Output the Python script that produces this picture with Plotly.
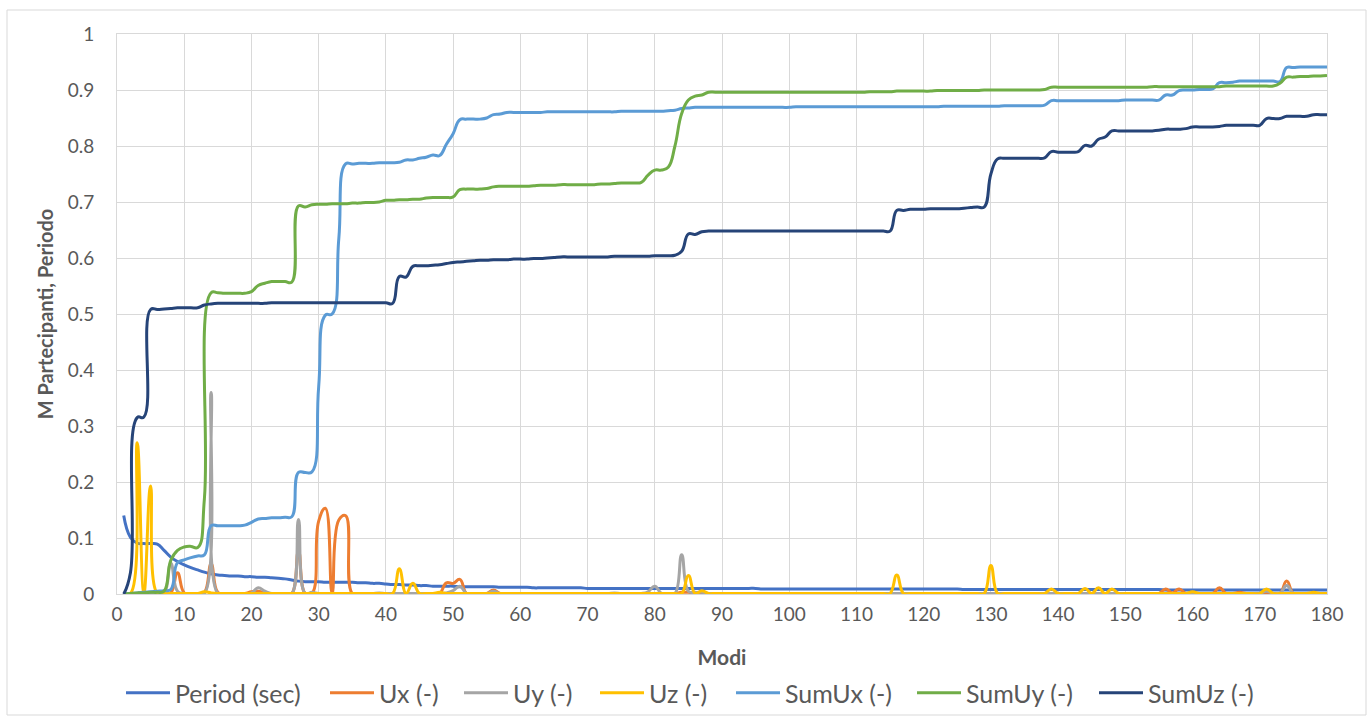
import plotly.graph_objects as go

# Modal analysis: participating mass ratios and periods for modes 1..180
modes = list(range(1, 181))

period_sec = [
    0.140, 0.101, 0.091, 0.090, 0.090, 0.089, 0.078, 0.066, 0.058, 0.052,
    0.047, 0.043, 0.039, 0.036, 0.034, 0.033, 0.032, 0.032, 0.031, 0.031,
    0.030, 0.030, 0.029, 0.028, 0.027, 0.025, 0.023, 0.022, 0.022, 0.022,
    0.021, 0.021, 0.021, 0.021, 0.021, 0.020, 0.020, 0.019, 0.019, 0.018,
    0.017, 0.017, 0.016, 0.016, 0.015, 0.015, 0.014, 0.014, 0.014, 0.014,
    0.013, 0.013, 0.013, 0.013, 0.013, 0.013, 0.012, 0.012, 0.012, 0.012,
    0.012, 0.011, 0.011, 0.011, 0.011, 0.011, 0.011, 0.011, 0.011, 0.010,
    0.010, 0.010, 0.010, 0.010, 0.010, 0.010, 0.010, 0.010, 0.010, 0.010,
    0.010, 0.010, 0.010, 0.010, 0.010, 0.010, 0.010, 0.010, 0.010, 0.010,
    0.010, 0.010, 0.010, 0.010, 0.010, 0.009, 0.009, 0.009, 0.009, 0.009,
    0.009, 0.009, 0.009, 0.009, 0.009, 0.009, 0.009, 0.009, 0.009, 0.009,
    0.009, 0.009, 0.009, 0.009, 0.009, 0.009, 0.009, 0.009, 0.009, 0.009,
    0.009, 0.009, 0.009, 0.009, 0.009, 0.008, 0.008, 0.008, 0.008, 0.008,
    0.008, 0.008, 0.008, 0.008, 0.008, 0.008, 0.008, 0.008, 0.008, 0.008,
    0.008, 0.008, 0.008, 0.008, 0.008, 0.008, 0.008, 0.008, 0.008, 0.008,
    0.008, 0.008, 0.008, 0.008, 0.008, 0.007, 0.007, 0.007, 0.007, 0.007,
    0.007, 0.007, 0.007, 0.007, 0.007, 0.007, 0.007, 0.007, 0.007, 0.007,
    0.007, 0.007, 0.007, 0.007, 0.007, 0.007, 0.007, 0.007, 0.007, 0.007,
]

ux = [
    0.001, 0.001, 0.001, 0.001, 0.001, 0.001, 0.001, 0.002, 0.038, 0.002,
    0.001, 0.001, 0.003, 0.054, 0.003, 0.001, 0.001, 0.001, 0.001, 0.004,
    0.005, 0.002, 0.001, 0.001, 0.001, 0.001, 0.077, 0.001, 0.001, 0.130,
    0.153, 0.001, 0.132, 0.140, 0.001, 0.001, 0.001, 0.001, 0.001, 0.001,
    0.001, 0.001, 0.001, 0.001, 0.001, 0.001, 0.001, 0.001, 0.020, 0.019,
    0.026, 0.001, 0.001, 0.001, 0.001, 0.007, 0.001, 0.001, 0.001, 0.001,
    0.001, 0.001, 0.001, 0.001, 0.001, 0.001, 0.001, 0.001, 0.001, 0.001,
    0.001, 0.001, 0.001, 0.001, 0.001, 0.001, 0.001, 0.001, 0.001, 0.001,
    0.001, 0.001, 0.001, 0.003, 0.003, 0.001, 0.001, 0.001, 0.001, 0.001,
    0.001, 0.001, 0.001, 0.001, 0.001, 0.001, 0.001, 0.001, 0.001, 0.001,
    0.001, 0.001, 0.001, 0.001, 0.001, 0.001, 0.001, 0.001, 0.001, 0.001,
    0.001, 0.001, 0.001, 0.001, 0.001, 0.001, 0.001, 0.001, 0.001, 0.001,
    0.001, 0.001, 0.001, 0.001, 0.001, 0.001, 0.001, 0.001, 0.001, 0.001,
    0.001, 0.001, 0.001, 0.001, 0.001, 0.001, 0.001, 0.001, 0.001, 0.001,
    0.001, 0.001, 0.001, 0.001, 0.001, 0.001, 0.001, 0.001, 0.001, 0.001,
    0.001, 0.001, 0.001, 0.001, 0.001, 0.009, 0.002, 0.009, 0.001, 0.001,
    0.001, 0.001, 0.001, 0.011, 0.001, 0.001, 0.003, 0.001, 0.001, 0.001,
    0.001, 0.001, 0.001, 0.023, 0.001, 0.001, 0.001, 0.001, 0.001, 0.001,
]

uy = [
    0.001, 0.001, 0.001, 0.001, 0.001, 0.001, 0.001, 0.055, 0.005, 0.001,
    0.001, 0.001, 0.001, 0.360, 0.001, 0.001, 0.001, 0.001, 0.001, 0.002,
    0.011, 0.005, 0.001, 0.001, 0.001, 0.001, 0.133, 0.001, 0.003, 0.001,
    0.001, 0.001, 0.001, 0.001, 0.001, 0.001, 0.001, 0.001, 0.002, 0.001,
    0.001, 0.001, 0.001, 0.001, 0.001, 0.001, 0.001, 0.001, 0.002, 0.006,
    0.014, 0.001, 0.001, 0.001, 0.001, 0.005, 0.001, 0.001, 0.001, 0.001,
    0.001, 0.001, 0.001, 0.001, 0.001, 0.001, 0.001, 0.001, 0.001, 0.001,
    0.001, 0.001, 0.001, 0.002, 0.001, 0.001, 0.001, 0.001, 0.004, 0.014,
    0.001, 0.001, 0.001, 0.070, 0.005, 0.003, 0.003, 0.001, 0.001, 0.001,
    0.001, 0.001, 0.001, 0.001, 0.001, 0.001, 0.001, 0.001, 0.001, 0.001,
    0.001, 0.001, 0.001, 0.001, 0.001, 0.001, 0.001, 0.001, 0.001, 0.001,
    0.001, 0.001, 0.001, 0.001, 0.001, 0.001, 0.001, 0.001, 0.001, 0.001,
    0.001, 0.001, 0.001, 0.001, 0.001, 0.001, 0.001, 0.001, 0.001, 0.001,
    0.001, 0.001, 0.001, 0.001, 0.001, 0.001, 0.001, 0.001, 0.001, 0.001,
    0.001, 0.001, 0.001, 0.001, 0.001, 0.001, 0.001, 0.001, 0.001, 0.001,
    0.001, 0.001, 0.001, 0.001, 0.001, 0.001, 0.001, 0.001, 0.001, 0.001,
    0.001, 0.001, 0.001, 0.001, 0.001, 0.001, 0.001, 0.001, 0.001, 0.001,
    0.005, 0.001, 0.001, 0.015, 0.001, 0.001, 0.001, 0.001, 0.001, 0.001,
]

uz = [
    0.001, 0.001, 0.270, 0.001, 0.193, 0.001, 0.001, 0.001, 0.001, 0.001,
    0.001, 0.001, 0.004, 0.002, 0.001, 0.001, 0.001, 0.001, 0.001, 0.001,
    0.001, 0.001, 0.001, 0.001, 0.001, 0.001, 0.001, 0.001, 0.001, 0.001,
    0.001, 0.001, 0.001, 0.001, 0.001, 0.001, 0.001, 0.001, 0.001, 0.001,
    0.001, 0.045, 0.001, 0.019, 0.001, 0.001, 0.001, 0.003, 0.001, 0.001,
    0.001, 0.001, 0.001, 0.001, 0.001, 0.001, 0.001, 0.001, 0.001, 0.001,
    0.001, 0.001, 0.001, 0.001, 0.001, 0.001, 0.001, 0.001, 0.001, 0.001,
    0.001, 0.001, 0.001, 0.001, 0.001, 0.001, 0.001, 0.001, 0.001, 0.001,
    0.001, 0.001, 0.001, 0.001, 0.033, 0.001, 0.006, 0.001, 0.001, 0.001,
    0.001, 0.001, 0.001, 0.001, 0.001, 0.001, 0.001, 0.001, 0.001, 0.001,
    0.001, 0.001, 0.001, 0.001, 0.001, 0.001, 0.001, 0.001, 0.001, 0.001,
    0.001, 0.001, 0.001, 0.001, 0.001, 0.034, 0.001, 0.001, 0.001, 0.001,
    0.001, 0.001, 0.001, 0.001, 0.001, 0.001, 0.001, 0.001, 0.001, 0.051,
    0.001, 0.001, 0.001, 0.001, 0.001, 0.001, 0.001, 0.001, 0.009, 0.001,
    0.001, 0.001, 0.001, 0.010, 0.001, 0.011, 0.001, 0.009, 0.001, 0.001,
    0.001, 0.001, 0.001, 0.001, 0.001, 0.001, 0.001, 0.001, 0.001, 0.004,
    0.001, 0.001, 0.001, 0.001, 0.001, 0.001, 0.001, 0.001, 0.001, 0.001,
    0.009, 0.001, 0.001, 0.001, 0.001, 0.001, 0.001, 0.003, 0.001, 0.001,
]

sum_ux = [
    0.000, 0.001, 0.002, 0.003, 0.004, 0.005, 0.006, 0.008, 0.056, 0.061,
    0.065, 0.068, 0.070, 0.122, 0.122, 0.122, 0.122, 0.122, 0.123, 0.128,
    0.134, 0.135, 0.136, 0.136, 0.137, 0.138, 0.217, 0.217, 0.218, 0.370,
    0.498, 0.500, 0.635, 0.768, 0.768, 0.769, 0.769, 0.769, 0.770, 0.770,
    0.770, 0.771, 0.775, 0.775, 0.778, 0.780, 0.784, 0.783, 0.803, 0.822,
    0.847, 0.848, 0.848, 0.848, 0.850, 0.856, 0.857, 0.860, 0.860, 0.860,
    0.860, 0.860, 0.860, 0.861, 0.861, 0.861, 0.861, 0.861, 0.861, 0.861,
    0.861, 0.861, 0.861, 0.861, 0.862, 0.862, 0.862, 0.862, 0.862, 0.862,
    0.862, 0.863, 0.864, 0.867, 0.868, 0.869, 0.869, 0.869, 0.869, 0.869,
    0.869, 0.869, 0.869, 0.869, 0.869, 0.869, 0.869, 0.869, 0.869, 0.869,
    0.870, 0.870, 0.870, 0.870, 0.870, 0.870, 0.870, 0.870, 0.870, 0.870,
    0.870, 0.870, 0.870, 0.870, 0.870, 0.870, 0.870, 0.870, 0.870, 0.870,
    0.870, 0.870, 0.871, 0.871, 0.871, 0.871, 0.871, 0.871, 0.871, 0.871,
    0.871, 0.872, 0.872, 0.872, 0.872, 0.872, 0.872, 0.873, 0.881, 0.881,
    0.881, 0.881, 0.881, 0.881, 0.881, 0.881, 0.881, 0.881, 0.881, 0.882,
    0.882, 0.882, 0.882, 0.882, 0.882, 0.891, 0.891, 0.899, 0.900, 0.900,
    0.901, 0.901, 0.902, 0.913, 0.913, 0.914, 0.916, 0.916, 0.916, 0.916,
    0.916, 0.916, 0.915, 0.940, 0.940, 0.941, 0.941, 0.941, 0.941, 0.941,
]

sum_uy = [
    0.000, 0.001, 0.002, 0.002, 0.003, 0.003, 0.005, 0.060, 0.078, 0.084,
    0.085, 0.083, 0.170, 0.538, 0.538, 0.537, 0.537, 0.537, 0.537, 0.540,
    0.551, 0.555, 0.558, 0.558, 0.558, 0.557, 0.693, 0.691, 0.695, 0.696,
    0.696, 0.697, 0.697, 0.697, 0.698, 0.698, 0.699, 0.699, 0.700, 0.703,
    0.703, 0.704, 0.704, 0.705, 0.705, 0.707, 0.708, 0.708, 0.708, 0.709,
    0.722, 0.723, 0.723, 0.723, 0.724, 0.727, 0.728, 0.728, 0.728, 0.728,
    0.728, 0.729, 0.730, 0.730, 0.730, 0.731, 0.731, 0.731, 0.731, 0.731,
    0.731, 0.732, 0.732, 0.733, 0.734, 0.734, 0.734, 0.735, 0.748, 0.757,
    0.757, 0.762, 0.800, 0.858, 0.882, 0.889, 0.891, 0.896, 0.896, 0.896,
    0.896, 0.896, 0.896, 0.896, 0.896, 0.896, 0.896, 0.896, 0.896, 0.896,
    0.896, 0.896, 0.896, 0.896, 0.896, 0.896, 0.896, 0.896, 0.896, 0.896,
    0.896, 0.897, 0.897, 0.897, 0.897, 0.898, 0.898, 0.898, 0.898, 0.898,
    0.898, 0.899, 0.899, 0.899, 0.899, 0.899, 0.899, 0.899, 0.900, 0.900,
    0.900, 0.900, 0.900, 0.900, 0.900, 0.900, 0.900, 0.901, 0.905, 0.905,
    0.905, 0.905, 0.905, 0.905, 0.905, 0.905, 0.905, 0.905, 0.905, 0.905,
    0.905, 0.905, 0.905, 0.906, 0.906, 0.906, 0.906, 0.906, 0.906, 0.906,
    0.906, 0.906, 0.906, 0.906, 0.907, 0.907, 0.907, 0.907, 0.907, 0.907,
    0.907, 0.907, 0.912, 0.923, 0.923, 0.924, 0.924, 0.925, 0.925, 0.926,
]

sum_uz = [
    0.000, 0.038, 0.315, 0.316, 0.508, 0.508, 0.509, 0.510, 0.511, 0.511,
    0.511, 0.511, 0.516, 0.518, 0.519, 0.519, 0.519, 0.519, 0.519, 0.519,
    0.519, 0.519, 0.520, 0.520, 0.520, 0.520, 0.520, 0.520, 0.520, 0.520,
    0.520, 0.520, 0.520, 0.520, 0.520, 0.520, 0.520, 0.520, 0.520, 0.520,
    0.519, 0.567, 0.566, 0.585, 0.586, 0.586, 0.587, 0.588, 0.590, 0.592,
    0.593, 0.594, 0.595, 0.596, 0.596, 0.597, 0.597, 0.597, 0.598, 0.598,
    0.598, 0.599, 0.599, 0.600, 0.601, 0.602, 0.602, 0.602, 0.602, 0.602,
    0.602, 0.602, 0.602, 0.603, 0.603, 0.603, 0.603, 0.603, 0.603, 0.604,
    0.604, 0.604, 0.605, 0.612, 0.643, 0.642, 0.647, 0.648, 0.648, 0.648,
    0.648, 0.648, 0.648, 0.648, 0.648, 0.648, 0.648, 0.648, 0.648, 0.648,
    0.648, 0.648, 0.648, 0.648, 0.648, 0.648, 0.648, 0.648, 0.648, 0.648,
    0.648, 0.648, 0.648, 0.648, 0.648, 0.685, 0.685, 0.687, 0.687, 0.687,
    0.688, 0.688, 0.688, 0.688, 0.688, 0.689, 0.690, 0.691, 0.691, 0.750,
    0.777, 0.778, 0.778, 0.778, 0.778, 0.778, 0.778, 0.779, 0.790, 0.789,
    0.789, 0.789, 0.790, 0.801, 0.800, 0.812, 0.816, 0.827, 0.827, 0.827,
    0.827, 0.827, 0.827, 0.827, 0.828, 0.830, 0.830, 0.830, 0.831, 0.834,
    0.834, 0.834, 0.834, 0.835, 0.837, 0.837, 0.837, 0.837, 0.837, 0.837,
    0.849, 0.849, 0.849, 0.853, 0.853, 0.853, 0.853, 0.856, 0.856, 0.856,
]

series = [
    ("Period (sec)", period_sec, "#4472C4"),
    ("Ux (-)", ux, "#ED7D31"),
    ("Uy (-)", uy, "#A5A5A5"),
    ("Uz (-)", uz, "#FFC000"),
    ("SumUx (-)", sum_ux, "#5B9BD5"),
    ("SumUy (-)", sum_uy, "#70AD47"),
    ("SumUz (-)", sum_uz, "#264478"),
]

x_ticks = list(range(0, 181, 10))
y_ticks = [0, 0.1, 0.2, 0.3, 0.4, 0.5, 0.6, 0.7, 0.8, 0.9, 1]
y_tick_text = ["0", "0.1", "0.2", "0.3", "0.4", "0.5", "0.6", "0.7", "0.8", "0.9", "1"]

W, H = 1370, 722
ML, MR, MT, MB = 117, 43, 34, 128
PW, PH = W - ML - MR, H - MT - MB

FONT = "Lato, 'Open Sans', sans-serif"
TXT = "#595959"
GRID = "#D9D9D9"

# left edge (px) of each legend entry along the bottom row
legend_left_px = [121, 325, 459, 595, 731, 912, 1094]
LEGEND_Y = (H - 693) / H

fig = go.Figure()
legend_layouts = {}
for i, (name, vals, color) in enumerate(series):
    key = "legend" if i == 0 else f"legend{i + 1}"
    fig.add_trace(go.Scatter(
        x=modes, y=vals, name=name, mode="lines", legend=key,
        line=dict(color=color, width=3, shape="spline", smoothing=1.3),
    ))
    legend_layouts[key] = dict(
        orientation="h", xref="container", yref="container",
        x=legend_left_px[i] / W, xanchor="left", y=LEGEND_Y, yanchor="middle",
        font=dict(size=25, color=TXT, family=FONT),
        itemwidth=44, bgcolor="rgba(0,0,0,0)", borderwidth=0,
    )

fig.update_layout(
    width=W, height=H,
    margin=dict(l=ML, r=MR, t=MT, b=MB, autoexpand=False),
    paper_bgcolor="white", plot_bgcolor="white",
    font=dict(family=FONT, color=TXT, size=19),
    showlegend=True,
    xaxis=dict(
        range=[0, 180], tickvals=x_ticks, ticks="",
        showgrid=True, gridcolor=GRID, gridwidth=1,
        zeroline=False, showline=True, linecolor=GRID, linewidth=1, mirror=True,
        tickfont=dict(size=19, color=TXT, family=FONT),
        ticklabelstandoff=3, automargin=False,
        title=dict(text="Modi", standoff=26,
                   font=dict(size=21, color=TXT, family=FONT, weight="bold")),
    ),
    yaxis=dict(
        range=[0, 1], tickvals=y_ticks, ticktext=y_tick_text, ticks="",
        showgrid=True, gridcolor=GRID, gridwidth=1,
        zeroline=False, showline=True, linecolor=GRID, linewidth=1, mirror=True,
        tickfont=dict(size=19, color=TXT, family=FONT),
        ticklabelstandoff=18, automargin=False,
        title=dict(text="M Partecipanti, Periodo", standoff=8,
                   font=dict(size=20, color=TXT, family=FONT, weight="bold")),
    ),
    shapes=[dict(
        type="rect", xref="paper", yref="paper", layer="below",
        x0=(7 - ML) / PW, x1=(1366 - ML) / PW,
        y0=(H - MB - 715) / PH, y1=(H - MB - 10) / PH,
        line=dict(color=GRID, width=1), fillcolor="rgba(0,0,0,0)",
    )],
    **legend_layouts,
)

fig.write_html("out.html")
